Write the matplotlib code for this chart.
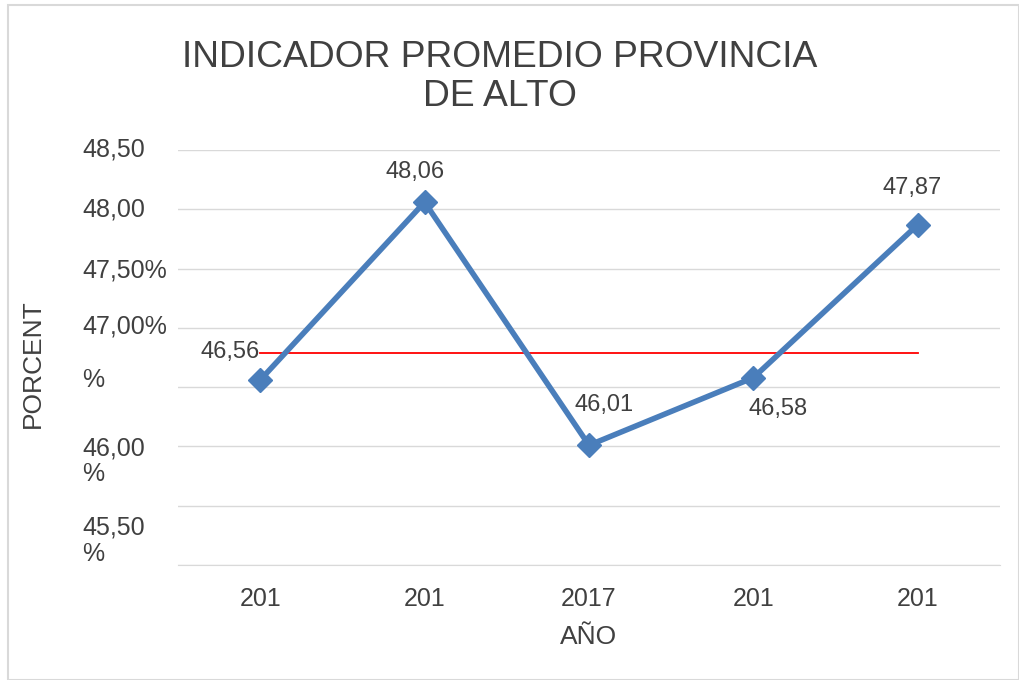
import matplotlib
matplotlib.use("Agg")
import matplotlib.pyplot as plt
from matplotlib.patches import Rectangle
from matplotlib import font_manager

names = {f.name for f in font_manager.fontManager.ttflist}
NARROW = "Liberation Sans Narrow" if "Liberation Sans Narrow" in names else "Liberation Sans"
plt.rcParams['font.family'] = ['Liberation Sans', 'DejaVu Sans']

# ---- data ----
years = ["201", "201", "2017", "201", "201"]
values = [46.56, 48.06, 46.01, 46.58, 47.87]
value_labels = ["46,56", "48,06", "46,01", "46,58", "47,87"]
reference_value = 46.79
y_ticks = [45.0, 45.5, 46.0, 46.5, 47.0, 47.5, 48.0, 48.5]
y_tick_labels = ["", "45,50\n%", "46,00\n%", "%", "47,00%", "47,50%", "48,00", "48,50"]
title = "INDICADOR PROMEDIO PROVINCIA\nDE ALTO"
x_title = "AÑO"
y_title = "PORCENT"

W, H = 1020, 680
fig = plt.figure(figsize=(W / 100, H / 100), dpi=100)
fig.patches.append(Rectangle((8 / W, 0), (W - 9) / W, (H - 5) / H, transform=fig.transFigure,
                             fill=False, edgecolor="#d9d9d9", linewidth=1.5))

ax = fig.add_axes([178 / W, 1 - 565 / H, (1000 - 178) / W, (565 - 150) / H])
x = list(range(len(values)))
ax.set_xlim(-0.5, len(values) - 0.5)
ax.set_ylim(y_ticks[0], y_ticks[-1])

ax.set_yticks(y_ticks)
ax.set_yticklabels([])
ax.tick_params(axis="y", length=0)
ax.grid(axis="y", color="#d9d9d9", linewidth=1)
ax.set_axisbelow(True)
for s in ["top", "right", "left"]:
    ax.spines[s].set_visible(False)
ax.spines["bottom"].set_color("#d9d9d9")

# y tick labels (manually positioned like the reference)
label_offsets = [0, -35, -15, 7, 1, -2, 0, 0]
for yv, lab, off in zip(y_ticks, y_tick_labels, label_offsets):
    if not lab:
        continue
    ax.annotate(lab, xy=(0, yv), xycoords=("figure fraction", "data"),
                xytext=(82, off), textcoords="offset pixels",
                ha="left", va="center", fontsize=18, color="#404040", linespacing=1.1)

ax.set_xticks(x)
ax.set_xticklabels(years, fontsize=18, color="#404040", family=NARROW)
ax.tick_params(axis="x", length=0, pad=16)

ax.plot(x, values, color="#4a7ebb", linewidth=4, marker="D", markersize=12,
        markerfacecolor="#4a7ebb", markeredgecolor="#4a7ebb", zorder=3)
ax.plot([x[0], x[-1]], [reference_value, reference_value], color="#ff0000", linewidth=1.3, zorder=2)

offsets = [(-30, 28), (-10, 30), (15, 40), (25, -31), (-6, 37)]
for xi, v, lab, (dx, dy) in zip(x, values, value_labels, offsets):
    ax.annotate(lab, xy=(xi, v), xytext=(dx, dy), textcoords="offset pixels",
                ha="center", va="center", fontsize=17, color="#404040")

ax.set_xlabel(x_title, fontsize=19, color="#404040", family=NARROW, labelpad=10)
fig.text(33 / W, 1 - 364 / H, y_title, rotation=90, ha="center", va="center",
         fontsize=19, color="#404040")

fig.text(500 / W, 1 - 77 / H, title, ha="center", va="center", fontsize=26.8,
         color="#404040", family=NARROW, linespacing=1.12)

fig.savefig("out.png", dpi=100)
